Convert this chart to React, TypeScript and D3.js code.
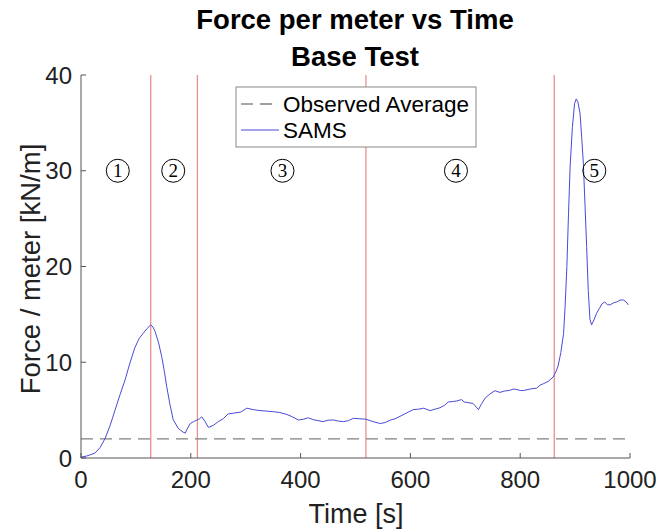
import React from "react";
import * as d3 from "d3";

const timeS = [0,10,25,35,44,53,62,71,80,89,98,106,113,120,127,131,135,141,147,152,156,162,168,177,186,190,193,199,205,211,216,220,226,232,241,250,259,268,280,291,302,314,326,338,350,362,375,385,396,405,414,423,432,441,450,460,469,478,487,496,508,519,532,545,554,563,572,581,593,605,615,624,636,645,654,662,669,677,684,693,698,703,714,724,730,736,745,754,763,772,780,788,794,800,806,818,830,836,842,851,860,865,869,874,879,882,885,888,891,895,899,902,905,909,912,915,918,921,924,927,930,935,939,944,949,954,959,964,970,976,982,988,993,997];
const samsForce = [0.1,0.2,0.5,1.1,2.05,3.4,5.0,6.6,8.1,9.9,11.5,12.5,13.0,13.5,13.9,13.7,13.2,12.1,10.6,9.0,7.5,5.6,4.0,3.1,2.7,2.6,3.0,3.6,3.8,3.95,4.1,4.3,3.8,3.2,3.4,3.8,4.1,4.6,4.7,4.8,5.2,5.05,4.95,4.9,4.84,4.75,4.55,4.3,3.97,4.05,4.2,4.0,3.9,3.8,3.95,3.97,3.85,3.8,3.9,4.14,4.1,4.05,3.8,3.6,3.7,3.95,4.1,4.35,4.7,5.05,5.1,5.2,4.95,5.1,5.25,5.5,5.85,5.9,5.95,6.1,5.85,5.8,5.7,5.05,5.7,6.25,6.7,7.03,6.85,7.0,7.05,7.2,7.15,7.05,7.05,7.2,7.3,7.6,7.75,8.0,8.45,9.0,9.6,11.0,13.0,16.0,20.0,25.5,30.5,34.5,37.0,37.5,37.2,36.0,33.5,30.8,26.5,22.1,17.5,14.5,13.9,14.5,15.1,15.6,16.1,16.3,16.0,16.0,16.2,16.3,16.5,16.5,16.3,16.0];
const observedAverage = 2.0;
const phaseBoundaries = [127, 212, 519, 862];
const phaseLabels = ["1", "2", "3", "4", "5"];
const phaseLabelTimes = [67, 168, 367, 683, 935];
const phaseLabelValue = 30;
const xTicks = [0, 200, 400, 600, 800, 1000];
const yTicks = [0, 10, 20, 30, 40];
const titleLines = ["Force per meter vs Time", "Base Test"];
const legendLabels = ["Observed Average", "SAMS"];

const W = 658, H = 531;
const FONT = "'Liberation Sans', Arial, Helvetica, sans-serif";

export default function App() {
  const x = d3.scaleLinear().domain([0, 1000]).range([81, 630]);
  const y = d3.scaleLinear().domain([0, 40]).range([458, 75]);
  const data = timeS.map((t, i) => [t, samsForce[i]] as [number, number]);
  const line = d3.line<[number, number]>().x(d => x(d[0])).y(d => y(d[1]));
  const axisColor = "#555";
  const redColor = "#e89090";
  const blueColor = "#4a4ad8";
  const dashColor = "#808080";

  return (
    <svg width={W} height={H} style={{ position: "absolute", left: 0, top: 0, background: "#fff" }}>
      <rect x={0} y={0} width={W} height={H} fill="#fff" />
      {titleLines.map((t, i) => (
        <text key={t} x={355} y={29 + i * 37} textAnchor="middle" fontFamily={FONT} fontWeight="bold" fontSize={27.5} fill="#000">{t}</text>
      ))}
      {phaseBoundaries.map((b) => (
        <line key={b} x1={x(b)} x2={x(b)} y1={y(40)} y2={y(0)} stroke={redColor} strokeWidth={1.3} />
      ))}
      <line x1={x(0)} x2={x(1000)} y1={y(observedAverage)} y2={y(observedAverage)} stroke={dashColor} strokeWidth={1.4} strokeDasharray="12,7" />
      <path d={line(data) || ""} fill="none" stroke={blueColor} strokeWidth={1} />
      <line x1={x(0)} x2={x(0)} y1={y(0)} y2={y(40)} stroke={axisColor} strokeWidth={1} />
      <line x1={x(0)} x2={x(1000)} y1={y(0)} y2={y(0)} stroke={axisColor} strokeWidth={1} />
      {yTicks.map((t) => (
        <g key={"y" + t}>
          <line x1={x(0)} x2={x(0) + 5} y1={y(t)} y2={y(t)} stroke={axisColor} />
          <text x={x(0) - 9} y={y(t) + 8.5} textAnchor="end" fontFamily={FONT} fontSize={24} fill="#222">{t}</text>
        </g>
      ))}
      {xTicks.map((t) => (
        <g key={"x" + t}>
          <line x1={x(t)} x2={x(t)} y1={y(0)} y2={y(0) - 5} stroke={axisColor} />
          <text x={x(t)} y={y(0) + 30} textAnchor="middle" fontFamily={FONT} fontSize={24} fill="#222">{t}</text>
        </g>
      ))}
      <text x={356} y={523} textAnchor="middle" fontFamily={FONT} fontSize={27} fill="#222">Time [s]</text>
      <text transform={`translate(40,269) rotate(-90)`} textAnchor="middle" fontFamily={FONT} fontSize={27.5} fill="#222">Force / meter [kN/m]</text>
      {phaseLabels.map((l, i) => (
        <g key={"p" + l}>
          <circle cx={x(phaseLabelTimes[i])} cy={y(phaseLabelValue)} r={11.5} fill="none" stroke="#000" strokeWidth={1} />
          <text x={x(phaseLabelTimes[i])} y={y(phaseLabelValue) + 6.5} textAnchor="middle" fontFamily="'Liberation Serif', 'DejaVu Serif', serif" fontSize={19} fill="#000">{l}</text>
        </g>
      ))}
      <rect x={236} y={87} width={240} height={60} fill="#fff" stroke="#888" strokeWidth={1} />
      <line x1={241} x2={279} y1={104} y2={104} stroke={dashColor} strokeWidth={1.4} strokeDasharray="12,7" />
      <text x={283} y={112} fontFamily={FONT} fontSize={22.5} fill="#000">{legendLabels[0]}</text>
      <line x1={241} x2={279} y1={130} y2={130} stroke={blueColor} strokeWidth={1.1} />
      <text x={283} y={138} fontFamily={FONT} fontSize={22.5} fill="#000">{legendLabels[1]}</text>
    </svg>
  );
}
